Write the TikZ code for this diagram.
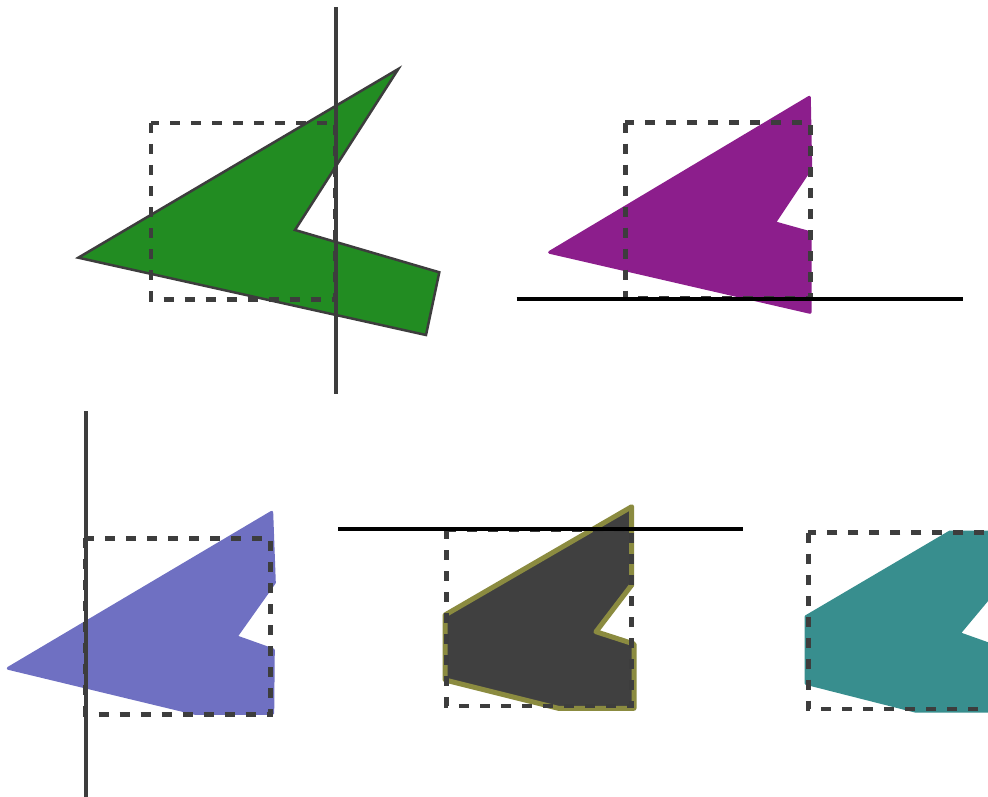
\documentclass[tikz,border=0pt]{standalone}
\usepackage{tikz}
\definecolor{dk}{RGB}{61,61,61}
\definecolor{grn}{RGB}{34,140,34}
\definecolor{purp}{RGB}{140,30,140}
\definecolor{blu}{RGB}{111,112,194}
\definecolor{gfill}{RGB}{64,64,64}
\definecolor{olive}{RGB}{139,139,64}
\definecolor{teal2}{RGB}{56,142,142}
\tikzset{
  cliprect/.style={draw=dk, line width=4.8pt, dash pattern=on 10pt off 11pt},
  clipline/.style={line width=4pt},
  poly/.style={line join=round, line width=3pt}
}
\begin{document}
\begin{tikzpicture}[x=1pt,y=-1pt]
\useasboundingbox (0,0) rectangle (988,797);
% panel 1
\draw[fill=grn, draw=dk, line width=2.5pt, line join=miter]
  (78.3,257.7) -- (398.3,69) -- (295,230) -- (439.3,272.3) -- (426,335) -- cycle;
\draw[cliprect] (151,123) rectangle (335.5,299.3);
\draw[clipline, dk] (335.5,7.5) -- (335.5,394);
% panel 2
\draw[poly, fill=purp, draw=purp]
  (549.7,252.3) -- (809.3,97.3) -- (810.7,168.3) -- (774.3,222.7) -- (810,232.7) -- (810,312.3) -- cycle;
\draw[cliprect] (625.3,122.7) rectangle (810.7,298.7);
\draw[clipline, black] (516.7,298.7) -- (962.7,298.7);
% panel 3
\draw[poly, fill=blu, draw=blu]
  (8.3,668.3) -- (271.7,512.3) -- (274.3,582.7) -- (236,636.7) -- (273.3,650) -- (272.7,713.3) -- (195,713.3) -- cycle;
\draw[cliprect] (85.5,538.3) rectangle (270.7,714.3);
\draw[clipline, dk] (85.5,411) -- (85.5,797);
% panel 4
\draw[fill=gfill, draw=olive, line width=5pt, line join=round]
  (631.7,506.7) -- (631.7,585) -- (596,631.7) -- (634,644) -- (634,708.3) -- (558.3,708.3) -- (445,680) -- (445,615) -- cycle;
\draw[cliprect] (446.7,529.3) rectangle (631.7,706);
\draw[clipline, black] (338.3,529.3) -- (742.7,529.3);
% panel 5
\draw[poly, fill=teal2, draw=teal2]
  (806,616.7) -- (950,532) -- (997,532) -- (997,588) -- (959,633.5) -- (997,647) -- (997,711) -- (915,711) -- (806,683.3) -- cycle;
\draw[cliprect] (808.3,532.7) rectangle (993,709);
\end{tikzpicture}
\end{document}
